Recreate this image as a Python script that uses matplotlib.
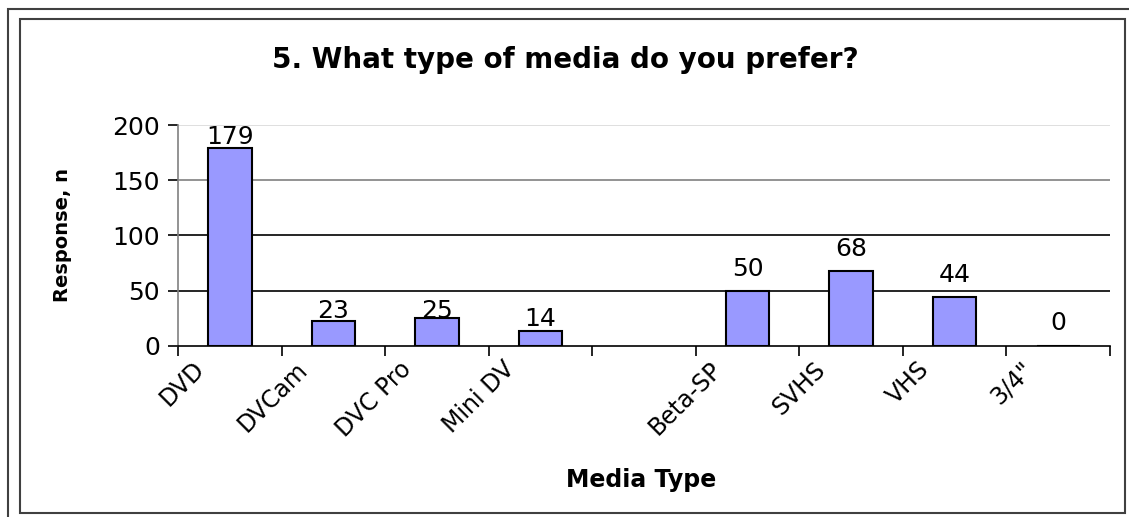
import matplotlib.pyplot as plt
import matplotlib.transforms as mtransforms
import numpy as np
from matplotlib.patches import Rectangle

# Survey data (blank slot between Mini DV and Beta-SP is an empty category)
categories = ["DVD", "DVCam", "DVC Pro", "Mini DV", "", "Beta-SP", "SVHS", "VHS", "3/4\""]
responses = [179, 23, 25, 14, np.nan, 50, 68, 44, 0]
y_ticks = [0, 50, 100, 150, 200]

# the original is a horizontally stretched Arial chart; DejaVu Sans is wide enough
plt.rcParams["font.family"] = ["DejaVu Sans"]

fig = plt.figure(figsize=(11.29, 5.17), dpi=100)
ax = fig.add_axes([0.1577, 0.3308, 0.8255, 0.4274])

x = np.arange(len(categories))
vals = np.array(responses, dtype=float)
mask = ~np.isnan(vals)
ax.bar(x[mask], vals[mask], width=0.42, color="#9999FF", edgecolor="black",
       linewidth=1.5, zorder=3)

# data labels, gaps in pixels roughly as in the original
label_gap = [4, 3, 0, 5, 0, 15, 15, 15, 16]
for xi, v, g in zip(x, vals, label_gap):
    if np.isnan(v):
        continue
    ax.annotate(f"{int(v)}", (xi, v), xytext=(0, g), textcoords="offset pixels",
                ha="center", va="baseline", fontsize=18, zorder=4)

ax.set_xlim(-0.5, len(categories) - 0.5)
ax.set_ylim(0, 200)
ax.set_yticks(y_ticks)
ax.set_yticklabels([str(t) for t in y_ticks], fontsize=18)

# gridlines (colors vary in the original rendering)
grid_colors = {50: "black", 100: "black", 150: "#808080", 200: "#d9d9d9"}
for t, c in grid_colors.items():
    ax.axhline(t, color=c, linewidth=1.2, zorder=1)

ax.set_xticks(np.arange(-0.5, len(categories) + 0.5, 1))
ax.set_xticklabels([])
ax.tick_params(axis="x", direction="out", length=7, width=1.2)
ax.tick_params(axis="y", direction="out", length=7, width=1.2, pad=6)
ax.set_xticks(x, minor=True)
ax.tick_params(axis="x", which="minor", length=0, pad=8)
lbl_shift = mtransforms.ScaledTranslation(-0.38, 0, fig.dpi_scale_trans)
ax.set_xticklabels(categories, minor=True, rotation=45, ha="right", va="top",
                   rotation_mode="anchor", fontsize=17)
for lbl in ax.get_xticklabels(minor=True):
    lbl.set_transform(lbl.get_transform() + lbl_shift)

for side in ["top", "right"]:
    ax.spines[side].set_visible(False)
ax.spines["left"].set_color("#808080")
ax.spines["left"].set_linewidth(1.2)
ax.spines["bottom"].set_linewidth(1.2)

fig.text(0.5005, 0.884, "5. What type of media do you prefer?", ha="center",
         va="center", fontsize=20, fontweight="bold")
fig.text(0.568, 0.072, "Media Type", ha="center", va="center", fontsize=17,
         fontweight="bold")
fig.text(0.055, 0.545, "Response, n", ha="center", va="center", fontsize=14,
         fontweight="bold", rotation=90)

# chart frames
fig.patches.append(Rectangle((0.0177, 0.0077), 0.9788, 0.9555, transform=fig.transFigure,
                             fill=False, edgecolor="#404040", linewidth=1.5))
fig.patches.append(Rectangle((0.0071, -0.1), 1.1, 1.0826, transform=fig.transFigure,
                             fill=False, edgecolor="#404040", linewidth=1.5))

fig.savefig("out.png", dpi=100)
